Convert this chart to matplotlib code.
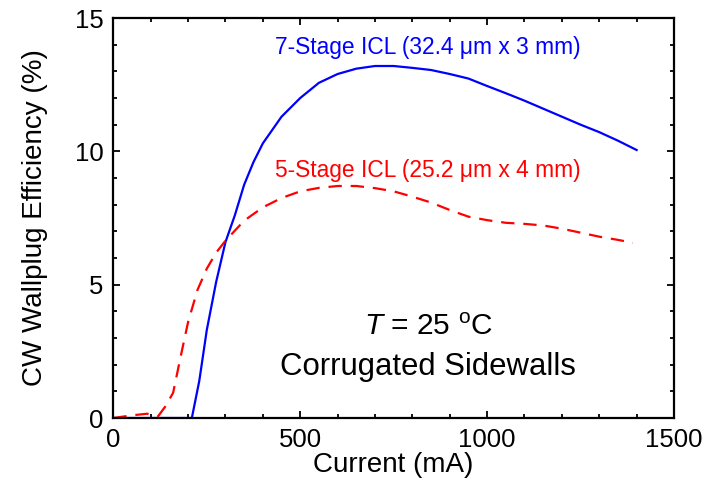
import matplotlib
matplotlib.use("Agg")
import matplotlib.pyplot as plt
from matplotlib.ticker import MultipleLocator

plt.rcParams['font.family'] = ['Liberation Sans', 'DejaVu Sans']
plt.rcParams['mathtext.fontset'] = 'custom'
plt.rcParams['mathtext.rm'] = 'Liberation Sans'
plt.rcParams['mathtext.it'] = 'Liberation Sans:italic'

# 7-stage ICL (blue, solid)
blue_current = [0, 210, 230, 250, 275, 300, 325, 350, 375, 400, 450, 500, 550, 600,
                650, 700, 750, 800, 850, 900, 950, 1000, 1050, 1100, 1150, 1200,
                1250, 1300, 1350, 1400]
blue_eff = [0, 0, 1.4, 3.3, 5.1, 6.6, 7.6, 8.75, 9.6, 10.3, 11.3, 12.0, 12.57, 12.9,
            13.1, 13.2, 13.2, 13.13, 13.05, 12.9, 12.73, 12.45, 12.18, 11.9, 11.6,
            11.3, 11.0, 10.72, 10.4, 10.05]

# 5-stage ICL (red, dashed)
red_current = [0, 50, 90, 120, 140, 160, 180, 200, 225, 250, 275, 300, 350, 400,
               450, 500, 550, 600, 650, 700, 750, 800, 850, 900, 950, 1000, 1050,
               1100, 1150, 1200, 1250, 1300, 1350, 1390]
red_eff = [0, 0.1, 0.16, 0.07, 0.45, 0.95, 2.3, 3.6, 4.8, 5.6, 6.2, 6.65, 7.4, 7.9,
           8.25, 8.5, 8.63, 8.7, 8.7, 8.62, 8.5, 8.3, 8.08, 7.8, 7.55, 7.42, 7.32,
           7.28, 7.22, 7.1, 6.95, 6.8, 6.68, 6.57]

blue_label = "7-Stage ICL (32.4 μm x 3 mm)"
red_label = "5-Stage ICL (25.2 μm x 4 mm)"

fig = plt.figure(figsize=(7.22, 4.92), dpi=100)
ax = fig.add_axes([0.157, 0.1504, 0.9335 - 0.157, 0.9634 - 0.1504])

ax.plot(blue_current, blue_eff, color='#0000ff', lw=1.6, solid_joinstyle='round')
ax.plot(red_current, red_eff, color='#ff0000', lw=1.6, dashes=(6, 4))

ax.set_xlim(0, 1500)
ax.set_ylim(0, 15)
ax.xaxis.set_major_locator(MultipleLocator(500))
ax.xaxis.set_minor_locator(MultipleLocator(100))
ax.yaxis.set_major_locator(MultipleLocator(5))
ax.yaxis.set_minor_locator(MultipleLocator(1))
ax.tick_params(which='both', direction='in', top=True, right=True, width=1.3,
               labelsize=18.5, colors='black')
ax.tick_params(which='major', length=5, pad=7)
ax.tick_params(which='minor', length=3)
for s in ax.spines.values():
    s.set_linewidth(1.6)

ax.set_xlabel("Current (mA)", fontsize=20, va='center')
ax.set_ylabel("CW Wallplug Efficiency (%)", fontsize=20, va='center')
ax.xaxis.set_label_coords(0.5, -0.1175)
ax.yaxis.set_label_coords(-0.14, 0.5)

ax.text(842, 13.9, blue_label, color='#0000ff', fontsize=16.4, ha='center', va='center')
ax.text(842, 9.3, red_label, color='#ff0000', fontsize=16.4, ha='center', va='center')
ax.text(842, 3.42, r"$\it{T}$ = 25 $^{\rm o}$C", fontsize=21.5, ha='center', va='center')
ax.text(842, 1.9, "Corrugated Sidewalls", fontsize=22.4, ha='center', va='center')

fig.savefig("out.png", dpi=100)
